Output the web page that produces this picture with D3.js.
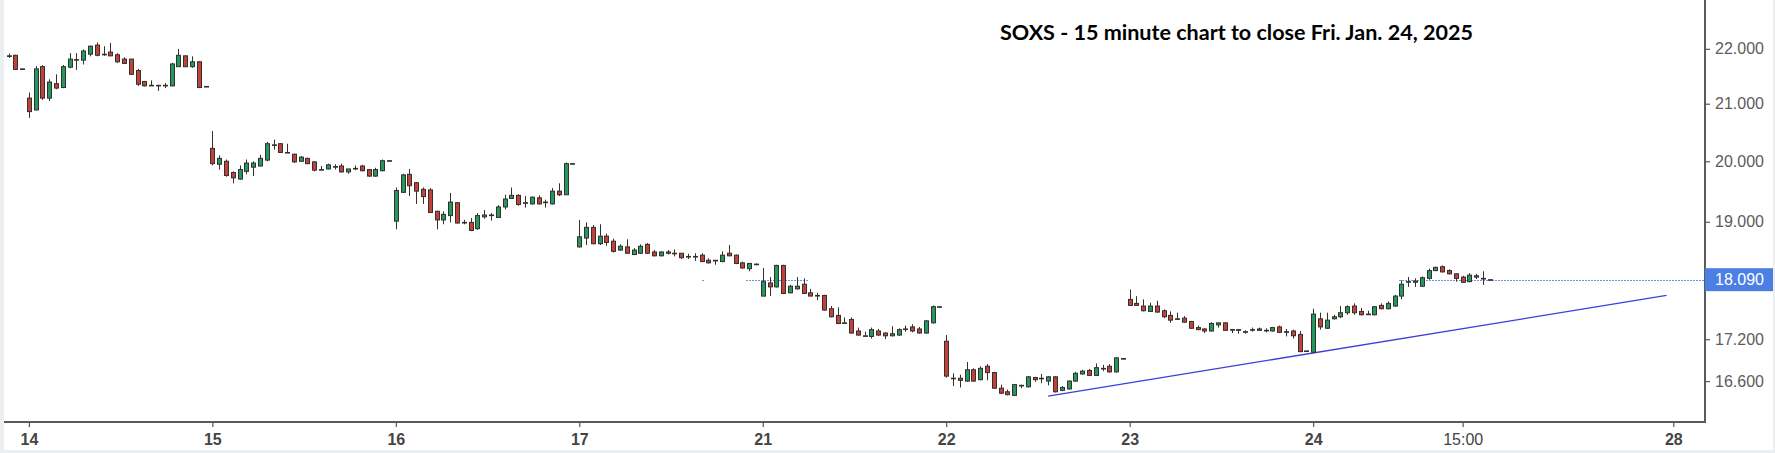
<!DOCTYPE html>
<html>
<head>
<meta charset="utf-8">
<script src="https://cdn.jsdelivr.net/npm/d3@7"></script>
<style>
  html, body { margin: 0; padding: 0; background: #eceef1; }
  svg { display: block; }
</style>
</head>
<body>
<svg id="chart" width="1775" height="453"></svg>
<script>
// ---------- DATA (15-minute bars, [open, high, low, close]) ----------
const day13 = [
  [21.87,21.91,21.83,21.87],[21.88,21.89,21.61,21.62],[21.63,21.63,21.63,21.63]
];
const day14 = [
  [21.10,21.20,20.75,20.86],[20.89,21.68,20.88,21.63],[21.67,21.70,21.07,21.10],[21.10,21.44,21.05,21.39],
  [21.36,21.53,21.26,21.28],[21.29,21.70,21.28,21.67],[21.66,21.92,21.64,21.81],[21.80,21.92,21.61,21.80],
  [21.79,21.99,21.71,21.96],[21.90,22.06,21.86,22.05],[22.07,22.12,21.86,21.88],[21.90,22.05,21.87,21.90],
  [21.94,22.11,21.86,21.87],[21.89,21.92,21.74,21.76],[21.81,21.84,21.72,21.73],[21.81,21.81,21.52,21.53],
  [21.60,21.63,21.32,21.35],[21.40,21.41,21.31,21.32],[21.33,21.42,21.33,21.33],[21.33,21.34,21.23,21.33],
  [21.33,21.37,21.28,21.33],[21.32,21.74,21.31,21.72],[21.67,22.00,21.67,21.88],[21.87,21.88,21.66,21.67],
  [21.67,21.86,21.65,21.76],[21.76,21.77,21.28,21.29],[21.31,21.31,21.31,21.31]
];
const day15 = [
  [20.22,20.52,19.93,19.96],[19.95,20.10,19.86,20.05],[20.00,20.03,19.74,19.76],[19.81,19.83,19.63,19.72],
  [19.70,19.93,19.69,19.86],[19.83,20.03,19.78,19.97],[19.90,20.00,19.75,19.97],[19.92,20.11,19.91,20.05],
  [20.02,20.33,20.00,20.30],[20.28,20.37,20.20,20.28],[20.30,20.31,20.14,20.15],[20.15,20.30,20.15,20.15],
  [20.12,20.13,19.97,19.99],[20.00,20.09,19.99,20.07],[20.05,20.06,19.95,19.96],[19.99,20.00,19.83,19.85],
  [19.86,19.92,19.86,19.86],[19.87,19.96,19.86,19.94],[19.91,19.95,19.86,19.91],[19.92,19.96,19.81,19.82],
  [19.82,19.87,19.79,19.87],[19.88,19.93,19.85,19.88],[19.92,19.94,19.83,19.84],[19.86,19.86,19.74,19.75],
  [19.75,19.89,19.74,19.86],[19.84,20.03,19.83,20.01],[20.01,20.01,20.01,20.01]
];
const day16 = [
  [19.01,19.56,18.88,19.51],[19.48,19.79,19.47,19.77],[19.78,19.87,19.42,19.59],[19.64,19.65,19.29,19.50],
  [19.53,19.56,19.29,19.41],[19.52,19.55,19.14,19.15],[19.17,19.18,18.88,19.03],[19.03,19.17,18.96,19.12],
  [19.10,19.47,18.99,19.32],[19.31,19.32,18.97,18.98],[18.99,19.03,18.96,18.99],[18.99,19.06,18.85,18.86],
  [18.89,19.14,18.87,19.10],[19.08,19.19,19.05,19.11],[19.11,19.14,19.02,19.11],[19.07,19.27,19.06,19.24],
  [19.24,19.44,19.20,19.37],[19.38,19.56,19.38,19.43],[19.43,19.45,19.26,19.28],[19.30,19.42,19.23,19.31],
  [19.29,19.41,19.28,19.40],[19.39,19.43,19.28,19.29],[19.32,19.36,19.23,19.32],[19.29,19.55,19.28,19.50],
  [19.50,19.63,19.42,19.44],[19.44,19.98,19.44,19.96],[19.96,19.96,19.96,19.96]
];
const day17 = [
  [18.60,19.03,18.59,18.76],[18.74,18.99,18.63,18.91],[18.91,18.95,18.64,18.65],[18.65,18.96,18.63,18.77],
  [18.77,18.81,18.62,18.67],[18.69,18.73,18.51,18.53],[18.55,18.64,18.54,18.61],[18.60,18.72,18.49,18.50],
  [18.48,18.58,18.47,18.55],[18.50,18.64,18.49,18.61],[18.64,18.66,18.49,18.50],[18.52,18.55,18.45,18.46],
  [18.46,18.53,18.45,18.52],[18.52,18.55,18.48,18.50],[18.50,18.56,18.45,18.50],[18.50,18.50,18.41,18.43],
  [18.45,18.49,18.41,18.45],[18.45,18.50,18.38,18.45],[18.47,18.50,18.36,18.37],[18.39,18.42,18.34,18.35],
  [18.38,18.39,18.32,18.39],[18.37,18.53,18.36,18.47],[18.50,18.63,18.45,18.46],[18.47,18.48,18.33,18.34],
  [18.35,18.37,18.26,18.27],[18.26,18.35,18.22,18.34],[18.33,18.34,18.32,18.33]
];
const day21 = [
  [17.84,18.27,17.84,18.06],[18.04,18.13,17.84,17.98],[17.98,18.32,17.97,18.31],[18.31,18.32,17.87,17.88],
  [17.89,18.01,17.88,17.99],[17.95,18.13,17.94,17.99],[18.02,18.11,17.87,17.88],[17.89,17.95,17.84,17.84],
  [17.85,17.89,17.78,17.85],[17.85,17.86,17.62,17.63],[17.65,17.69,17.52,17.53],[17.55,17.67,17.42,17.43],
  [17.44,17.52,17.44,17.44],[17.49,17.52,17.28,17.29],[17.32,17.37,17.25,17.26],[17.25,17.31,17.25,17.25],
  [17.24,17.37,17.21,17.34],[17.32,17.35,17.25,17.26],[17.29,17.30,17.20,17.25],[17.25,17.39,17.24,17.28],
  [17.26,17.36,17.25,17.34],[17.35,17.40,17.31,17.35],[17.38,17.42,17.30,17.32],[17.35,17.38,17.28,17.29],
  [17.29,17.48,17.28,17.47],[17.44,17.70,17.43,17.68],[17.68,17.68,17.68,17.68]
];
const day22 = [
  [17.17,17.26,16.65,16.67],[16.64,16.71,16.53,16.64],[16.64,16.69,16.51,16.61],[16.60,16.87,16.59,16.76],
  [16.76,16.78,16.59,16.60],[16.62,16.81,16.61,16.78],[16.81,16.84,16.61,16.72],[16.72,16.73,16.49,16.50],
  [16.50,16.55,16.42,16.43],[16.45,16.48,16.40,16.41],[16.40,16.56,16.39,16.55],[16.54,16.55,16.50,16.54],
  [16.52,16.67,16.51,16.66],[16.65,16.66,16.59,16.62],[16.64,16.70,16.57,16.64],[16.60,16.67,16.54,16.66],
  [16.66,16.67,16.44,16.45],[16.47,16.53,16.46,16.51],[16.49,16.61,16.48,16.60],[16.60,16.73,16.59,16.71],
  [16.70,16.76,16.69,16.74],[16.75,16.77,16.67,16.68],[16.68,16.85,16.67,16.79],[16.78,16.83,16.74,16.78],
  [16.81,16.84,16.72,16.73],[16.73,16.94,16.72,16.93],[16.92,16.92,16.92,16.92]
];
const day23 = [
  [17.79,17.94,17.69,17.70],[17.73,17.84,17.69,17.70],[17.69,17.79,17.61,17.62],[17.61,17.74,17.60,17.69],
  [17.69,17.77,17.59,17.60],[17.62,17.64,17.51,17.53],[17.55,17.61,17.44,17.48],[17.50,17.59,17.49,17.50],
  [17.51,17.54,17.44,17.45],[17.46,17.47,17.35,17.36],[17.37,17.40,17.33,17.34],[17.35,17.36,17.29,17.32],
  [17.32,17.45,17.31,17.43],[17.41,17.44,17.37,17.44],[17.44,17.45,17.32,17.33],[17.34,17.35,17.29,17.34],
  [17.34,17.35,17.28,17.33],[17.31,17.33,17.28,17.31],[17.34,17.37,17.31,17.34],[17.35,17.37,17.32,17.33],
  [17.33,17.36,17.30,17.33],[17.32,17.38,17.31,17.37],[17.38,17.40,17.29,17.30],[17.30,17.35,17.24,17.31],
  [17.32,17.34,17.21,17.25],[17.27,17.32,17.01,17.02],[17.03,17.03,17.03,17.03]
];
const day24 = [
  [17.01,17.65,17.00,17.57],[17.50,17.59,17.34,17.38],[17.36,17.59,17.35,17.48],[17.50,17.56,17.49,17.53],
  [17.53,17.69,17.51,17.59],[17.59,17.70,17.56,17.68],[17.69,17.73,17.56,17.59],[17.61,17.66,17.55,17.56],
  [17.57,17.62,17.56,17.57],[17.56,17.69,17.55,17.68],[17.70,17.73,17.64,17.65],[17.65,17.76,17.64,17.73],
  [17.69,17.86,17.68,17.84],[17.84,18.08,17.79,18.02],[18.06,18.13,17.98,18.06],[18.05,18.11,17.98,18.07],
  [17.99,18.14,17.98,18.12],[18.11,18.26,18.09,18.23],[18.23,18.29,18.22,18.28],[18.29,18.31,18.20,18.21],
  [18.23,18.25,18.17,18.18],[18.18,18.19,18.06,18.11],[18.13,18.15,18.04,18.05],[18.06,18.19,18.05,18.16],
  [18.15,18.18,18.10,18.13],[18.11,18.22,18.01,18.10],[18.09,18.09,18.09,18.09]
];

// x-axis ticks: bar-slot positions and their labels
const xTickSlots  = [3, 30, 57, 84, 111, 138, 165, 192, 214, 245];
const xTickLabels = ["14", "15", "16", "17", "21", "22", "23", "24", "15:00", "28"];
const yTickValues = [22, 21, 20, 19, 17.2, 16.6];
const lastPrice = 18.09;
// dotted last-price segments [fromSlot, toSlot]
const priceLineSegments = [[102.1, 102.4], [108.5, 117.6], [204.6, 250]];
// trend line [slot, price]
const trendLine = [[153, 16.39], [244, 17.85]];
const title = "SOXS - 15 minute chart to close Fri. Jan. 24, 2025";

// ---------- LAYOUT ----------
const W = 1775, H = 453;
const plotL = 4, plotR = 1705, plotT = 0, plotB = 422;

const svg = d3.select("#chart");
svg.append("rect").attr("x", 0).attr("y", 0).attr("width", W).attr("height", H).attr("fill", "#eceef1");
svg.append("rect").attr("x", plotL).attr("y", 0).attr("width", 1773 - plotL).attr("height", 450).attr("fill", "#ffffff");

const x = d3.scaleLinear().domain([0, 245]).range([8.5, 1673.3]);
const y = d3.scaleLog().domain([16.034, 22.93]).range([plotB, plotT]);

const bars = [day13, day14, day15, day16, day17, day21, day22, day23, day24]
  .flat()
  .map((d, i) => ({ i, o: d[0], h: d[1], l: d[2], c: d[3] }));

// clip
svg.append("clipPath").attr("id", "clip")
  .append("rect").attr("x", plotL).attr("y", plotT).attr("width", plotR - plotL).attr("height", plotB - plotT);
const plot = svg.append("g").attr("clip-path", "url(#clip)");

// last-price dotted segments
plot.selectAll("line.pl").data(priceLineSegments).join("line")
  .attr("class", "pl")
  .attr("x1", d => Math.round(x(d[0]))).attr("x2", d => Math.min(Math.round(x(d[1])), plotR))
  .attr("y1", Math.round(y(lastPrice)) + 0.5).attr("y2", Math.round(y(lastPrice)) + 0.5)
  .attr("stroke", "#6f93e6").attr("stroke-width", 1).attr("stroke-dasharray", "2,1");

// trend line
plot.append("line")
  .attr("x1", x(trendLine[0][0])).attr("y1", y(trendLine[0][1]))
  .attr("x2", x(trendLine[1][0])).attr("y2", y(trendLine[1][1]))
  .attr("stroke", "#3b3fd8").attr("stroke-width", 1.3);

// candles
const green = "#21995f", red = "#c0423a", outline = "#35302c";
const g = plot.selectAll("g.candle").data(bars).join("g").attr("class", "candle");
g.append("line")
  .attr("x1", d => Math.round(x(d.i)) + 0.5).attr("x2", d => Math.round(x(d.i)) + 0.5)
  .attr("y1", d => y(d.h)).attr("y2", d => y(d.l))
  .attr("stroke", outline).attr("stroke-width", 1);
g.append("rect")
  .attr("x", d => Math.round(x(d.i)) - 1.5)
  .attr("width", 4)
  .attr("y", d => Math.min(y(d.o), y(d.c)))
  .attr("height", d => Math.max(Math.abs(y(d.o) - y(d.c)), 0.6))
  .attr("fill", d => d.c >= d.o ? green : red)
  .attr("stroke", outline).attr("stroke-width", 1);

// axis lines
svg.append("line").attr("x1", plotL).attr("x2", plotR + 1).attr("y1", plotB).attr("y2", plotB)
  .attr("stroke", "#5a5a5a").attr("stroke-width", 2);
svg.append("line").attr("x1", plotR).attr("x2", plotR).attr("y1", 0).attr("y2", plotB)
  .attr("stroke", "#5a5a5a").attr("stroke-width", 2);

// x axis
const xAxis = d3.axisBottom(x)
  .tickValues(xTickSlots)
  .tickFormat((d, i) => xTickLabels[i])
  .tickSize(5).tickSizeOuter(0).tickPadding(7);
const gx = svg.append("g").attr("transform", `translate(0,${plotB})`).call(xAxis);
gx.select(".domain").remove();
gx.selectAll(".tick line").attr("stroke", "#555").attr("stroke-width", 1.2);
gx.selectAll(".tick text")
  .attr("fill", "#444")
  .style("font-family", "'Liberation Sans', Arial, sans-serif")
  .style("font-size", "16px")
  .style("font-weight", (d, i) => xTickLabels[i].includes(":") ? "400" : "700");

// y axis
const yAxis = d3.axisRight(y)
  .tickValues(yTickValues)
  .tickFormat(d3.format(".3f"))
  .tickSize(5).tickSizeOuter(0).tickPadding(5);
const gy = svg.append("g").attr("transform", `translate(${plotR},0)`).call(yAxis);
gy.select(".domain").remove();
gy.selectAll(".tick line").attr("stroke", "#555").attr("stroke-width", 1.2);
gy.selectAll(".tick text")
  .attr("fill", "#5c5c5c")
  .style("font-family", "'Liberation Sans', Arial, sans-serif")
  .style("font-size", "16px");

// last price box
const yl = y(lastPrice);
svg.append("rect").attr("x", plotR).attr("y", yl - 11.5).attr("width", 1773 - plotR).attr("height", 23)
  .attr("fill", "#4b7fe3");
svg.append("text").attr("x", plotR + 10).attr("y", yl).attr("dy", "0.35em")
  .attr("fill", "#ffffff")
  .style("font-family", "'Liberation Sans', Arial, sans-serif")
  .style("font-size", "16px")
  .text(d3.format(".3f")(lastPrice));

// title
const t = svg.append("text").attr("x", 1000).attr("y", 40)
  .attr("fill", "#000")
  .style("font-family", "Lato, 'Open Sans', sans-serif")
  .style("font-weight", "700")
  .style("font-size", "20px")
  .text(title);
const len = t.node().getComputedTextLength();
if (len > 0) t.style("font-size", (20 * 473 / len).toFixed(2) + "px");
</script>
</body>
</html>
